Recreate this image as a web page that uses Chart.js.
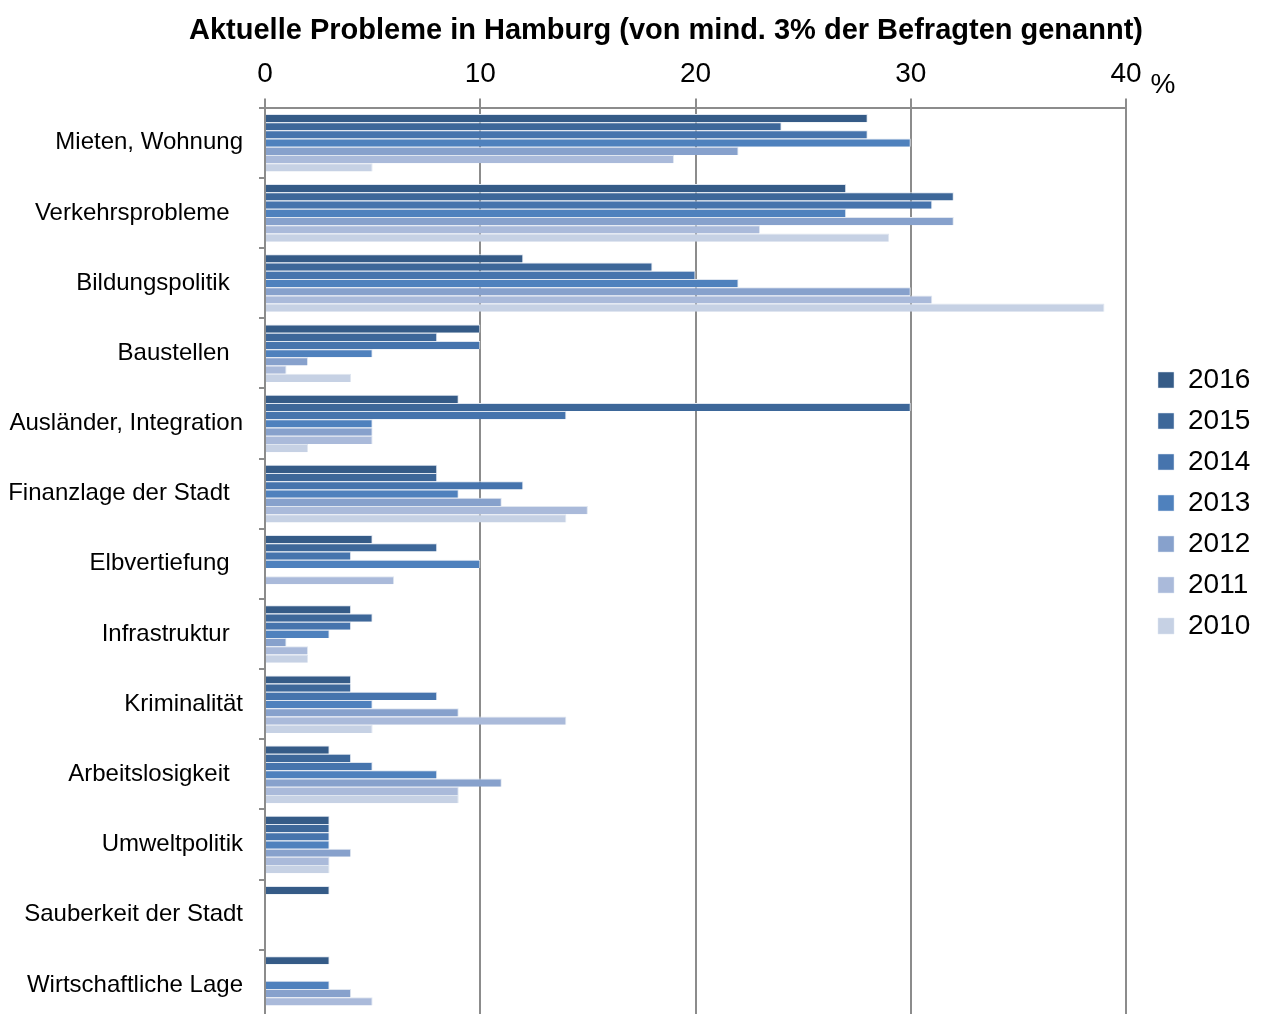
<!DOCTYPE html>
<html>
<head>
<meta charset="utf-8">
<script src="https://cdn.jsdelivr.net/npm/chart.js@4"></script>
<style>
html, body { margin: 0; padding: 0; background: #fff; overflow: hidden; }
</style>
</head>
<body>
<canvas id="canvas" width="1263" height="1020"></canvas>
<script>
var chartTitle = 'Aktuelle Probleme in Hamburg (von mind. 3% der Befragten genannt)';
var categories = ['Mieten, Wohnung', 'Verkehrsprobleme  ', 'Bildungspolitik  ', 'Baustellen  ',
    'Ausländer, Integration', 'Finanzlage der Stadt  ', 'Elbvertiefung  ', 'Infrastruktur  ',
    'Kriminalität', 'Arbeitslosigkeit  ', 'Umweltpolitik', 'Sauberkeit der Stadt', 'Wirtschaftliche Lage'];
var years = ['2016', '2015', '2014', '2013', '2012', '2011', '2010'];
var v2016 = [28, 27, 12, 10, 9, 8, 5, 4, 4, 3, 3, 3, 3];
var v2015 = [24, 32, 18, 8, 30, 8, 8, 5, 4, 4, 3, null, null];
var v2014 = [28, 31, 20, 10, 14, 12, 4, 4, 8, 5, 3, null, null];
var v2013 = [30, 27, 22, 5, 5, 9, 10, 3, 5, 8, 3, null, 3];
var v2012 = [22, 32, 30, 2, 5, 11, null, 1, 9, 11, 4, null, 4];
var v2011 = [19, 23, 31, 1, 5, 15, 6, 2, 14, 9, 3, null, 5];
var v2010 = [5, 29, 39, 4, 2, 14, null, 2, 5, 9, 3, null, null];
var seriesColors = ['#355b87', '#3d6799', '#4674ad', '#4f81bd', '#87a1cc', '#aabada', '#c6d1e4'];
var xMin = 0, xMax = 40, xStep = 10;

const FONT = '"Liberation Sans", Arial, sans-serif';
var allValues = [v2016, v2015, v2014, v2013, v2012, v2011, v2010];
var datasets = [];
years.forEach((y, i) => {
    datasets.push({
        label: y,
        data: allValues[i],
        backgroundColor: seriesColors[i],
        borderColor: '#dfe6f0',
        borderWidth: { top: 1, bottom: 0, right: 1, left: 0 },
        borderSkipped: false,
        categoryPercentage: 0.82,
        barPercentage: 1.0
    });
});

// Titel und "%" werden direkt auf die Leinwand geschrieben
const extraText = {
    id: 'extraText',
    afterLayout(chart) {
        // Legende etwas nach rechts ruecken
        chart.legend.left += 19;
        chart.legend.right += 19;
    },
    afterDraw(chart) {
        const sc = chart.scales.x;
        const ctx = chart.ctx;
        ctx.save();
        ctx.fillStyle = '#000';
        ctx.textAlign = 'center';
        ctx.textBaseline = 'middle';
        ctx.font = 'bold 29px ' + FONT;
        ctx.fillText(chartTitle, 666, 31);
        ctx.font = '28px ' + FONT;
        ctx.fillText('%', sc.right + 37, 85);
        ctx.restore();
    }
};

const canvas = document.getElementById('canvas');
const chart = new Chart(canvas, {
    type: 'bar',
    data: { labels: categories, datasets: datasets },
    options: {
        indexAxis: 'y',
        responsive: false,
        animation: false,
        layout: { padding: { left: 8, right: 5, top: 49, bottom: 0 } },
        scales: {
            x: {
                position: 'top',
                min: xMin,
                max: xMax,
                ticks: {
                    stepSize: xStep,
                    color: '#000',
                    padding: 8,
                    font: { family: FONT, size: 28 }
                },
                grid: { color: '#8c8c8c', lineWidth: 2, tickLength: 9 },
                border: { color: '#8c8c8c', width: 2 },
                afterFit: function (scale) { scale.paddingRight = 137; }
            },
            y: {
                ticks: {
                    color: '#000',
                    padding: 16,
                    font: { family: FONT, size: 24 }
                },
                grid: { drawOnChartArea: false, color: '#8c8c8c', lineWidth: 2, tickLength: 6, offset: true },
                border: { color: '#8c8c8c', width: 2 },
                afterFit: function (scale) {
                    scale.width = 257;
                    scale.paddingTop = 0;
                    scale.paddingBottom = 0;
                }
            }
        },
        plugins: {
            title: { display: false },
            legend: {
                position: 'right',
                align: 'start',
                title: { display: true, text: '', font: { size: 10 }, padding: { top: 292, bottom: 0 } },
                labels: {
                    color: '#000',
                    boxWidth: 16,
                    boxHeight: 16,
                    padding: 13,
                    font: { family: FONT, size: 28 }
                }
            },
            tooltip: { enabled: false }
        }
    },
    plugins: [extraText]
});
</script>
</body>
</html>
